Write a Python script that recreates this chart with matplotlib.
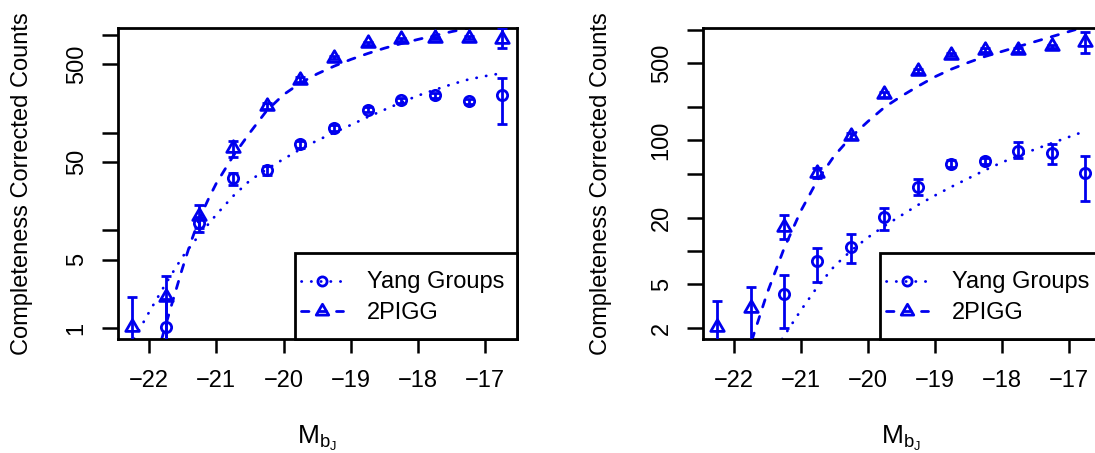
import numpy as np
import matplotlib
matplotlib.use("Agg")
import matplotlib.pyplot as plt
from matplotlib.path import Path
from matplotlib.patches import Rectangle
from matplotlib.ticker import NullLocator

plt.rcParams['font.family'] = ['Liberation Sans', 'DejaVu Sans']
plt.rcParams['mathtext.fontset'] = 'custom'
plt.rcParams['mathtext.rm'] = 'Liberation Sans'
plt.rcParams['mathtext.it'] = 'Liberation Sans'
plt.rcParams['mathtext.bf'] = 'Liberation Sans:bold'

W, H, DPI = 1095, 453, 100
FS = 17
BLUE = '#0000EE'
nan = np.nan

# ---------------- data ----------------
mag_bins = [-22.25, -21.75, -21.25, -20.75, -20.25, -19.75,
            -19.25, -18.75, -18.25, -17.75, -17.25, -16.75]
mag_ticks = [-22, -21, -20, -19, -18, -17]
mag_ticklabels = ['\u221222', '\u221221', '\u221220', '\u221219', '\u221218', '\u221217']

# left panel: counts with lower / upper error limits
yang_a = [nan, 1.03, 12.0, 34.2, 41.2, 76, 112, 172, 214, 241, 211, 246]
yang_a_lo = [nan, 0.3, 10.5, 29.2, 37, 70, 104, 161, 202, 228, 199, 122]
yang_a_hi = [nan, 2.0, 13.7, 38.9, 46, 82, 120, 183, 226, 254, 223, 366]
pigg_a = [1.03, 2.09, 13.9, 69.7, 188, 350, 585, 824, 906, 935, 940, 920]
pigg_a_lo = [0.3, 0.5, 9.7, 57, 176, 333, 563, 797, 877, 906, 911, 740]
pigg_a_hi = [2.09, 3.4, 18.3, 81.5, 200, 368, 607, 851, 935, 964, 969, 1170]

# left panel: fitted luminosity functions
fit_a_pigg_mag = [-21.81, -21.66, -21.51, -21.39, -21.25, -21.11, -21.0, -20.75,
                  -20.5, -20.25, -20.0, -19.75, -19.5, -19.25, -19.0, -18.75,
                  -18.5, -18.25, -18.0, -17.75, -17.5, -17.25, -17.0]
fit_a_pigg_val = [0.773, 1.758, 3.936, 7.16, 13.18, 21.38, 30.2, 57.5,
                  100, 168, 245, 322, 400, 479, 562, 646,
                  733, 817, 902, 989, 1084, 1175, 1259]
fit_a_yang_mag = [-22.22, -22.0, -21.75, -21.5, -21.25, -21.0, -20.75, -20.5,
                  -20.25, -20.0, -19.75, -19.5, -19.25, -19.0, -18.75, -18.5,
                  -18.25, -18.0, -17.75, -17.5, -17.25, -17.0, -16.75]
fit_a_yang_val = [0.773, 1.445, 2.851, 5.37, 9.02, 14.45, 22.4, 32.4,
                  42.2, 53.7, 67.6, 83.2, 100, 120, 144.5, 171.8,
                  204, 240, 275, 313, 351, 380, 407]

# right panel: counts with lower / upper error limits
yang_b = [nan, nan, 4.1, 8.07, 10.9, 20.2, 38, 61.5, 65.5, 80.7, 76.6, 51]
yang_b_lo = [nan, nan, 2.0, 5.2, 7.7, 15.5, 32, 57, 61, 69, 61.5, 28.5]
yang_b_hi = [nan, nan, 6.0, 10.6, 14.3, 24.4, 44.3, 66, 70, 97, 93.5, 73]
pigg_b = [2.05, 3.01, 16.5, 51, 109, 261, 428, 599, 659, 659, 713, 776]
pigg_b_lo = [0.5, 0.5, 12.8, 46, 102, 248, 410, 578, 637, 637, 690, 620]
pigg_b_hi = [3.5, 4.7, 21.3, 56, 116, 274, 446, 620, 681, 681, 736, 958]

# right panel: fitted luminosity functions
fit_b_pigg_mag = [-21.73, -21.5, -21.25, -21.0, -20.75, -20.5, -20.25, -20.0,
                  -19.75, -19.5, -19.25, -19.0, -18.75, -18.5, -18.25, -18.0,
                  -17.75, -17.5, -17.25, -17.0, -16.75]
fit_b_pigg_val = [1.55, 4.17, 10.47, 22.9, 43.65, 72.4, 107.2, 147.9,
                  199.5, 251, 309, 376, 442, 507, 575, 638,
                  708, 785, 871, 966, 1072]
fit_b_yang_mag = [-21.28, -21.0, -20.75, -20.5, -20.25, -20.0, -19.75, -19.5,
                  -19.25, -19.0, -18.75, -18.5, -18.25, -18.0, -17.75, -17.5,
                  -17.25, -17.0, -16.75]
fit_b_yang_val = [1.585, 2.884, 4.73, 7.24, 10.0, 13.18, 16.79, 20.9,
                  26.0, 31.6, 38.0, 45.2, 53.7, 63.1, 72.4, 83.2,
                  94.4, 107.2, 121.6]

series_labels = ['Yang Groups', '2PIGG']
ylabel_text = 'Completeness Corrected Counts'
xlabel_text = r'$\mathregular{M_{b_J}}$'

yticks_a = [1, 5, 10, 50, 100, 500, 1000]
yticklabels_a = ['1', '5', '', '50', '', '500', '']
yticks_b = [2, 5, 10, 20, 50, 100, 200, 500, 1000]
yticklabels_b = ['2', '5', '', '20', '', '100', '', '500', '']

# equilateral open triangle centred on its circumcentre
TRI = Path([(0, 1), (-0.866, -0.5), (0.866, -0.5), (0, 1)],
           [Path.MOVETO, Path.LINETO, Path.LINETO, Path.CLOSEPOLY])

LW = 2.0
DOT = dict(ls=(0, (0.1, 3.4)), dash_capstyle='round')
DASH = dict(ls=(0, (2.7, 3.6)), dash_capstyle='round')
CIRC = dict(marker='o', ms=7.4, mfc='none', mec=BLUE, mew=LW)
TRIM = dict(marker=TRI, ms=11.2, mfc='none', mec=BLUE, mew=LW)
CIRC_KEY = dict(marker='o', ms=6.6, mfc='none', mec=BLUE, mew=LW)
TRIM_KEY = dict(marker=TRI, ms=10.4, mfc='none', mec=BLUE, mew=LW)


def draw_points(ax, x, y, lo, hi, mstyle):
    x = np.asarray(x, float)
    y = np.asarray(y, float)
    lo = np.asarray(lo, float)
    hi = np.asarray(hi, float)
    ok = ~np.isnan(y)
    ax.errorbar(x[ok], y[ok], yerr=[y[ok] - lo[ok], hi[ok] - y[ok]], fmt='none',
                ecolor=BLUE, elinewidth=LW, capsize=3.9, capthick=LW, zorder=3)
    ax.plot(x[ok], y[ok], ls='none', zorder=4, **mstyle)


def draw_key(ax, ax_w_px, ax_h_px):
    fx = lambda px: px / ax_w_px
    fy = lambda py: py / ax_h_px
    ax.add_patch(Rectangle((fx(177), 0), 1 - fx(177), fy(86),
                           transform=ax.transAxes, facecolor='white',
                           edgecolor='black', lw=2.0, zorder=6, clip_on=False))
    rows = [(58, 51.3, DOT, CIRC_KEY, series_labels[0]),
            (28.5, 20.0, DASH, TRIM_KEY, series_labels[1])]
    for ly, by, lstyle, mstyle, text in rows:
        ax.plot([fx(183), fx(225)], [fy(ly), fy(ly)], transform=ax.transAxes,
                color=BLUE, lw=LW, zorder=7, clip_on=False, **lstyle)
        ax.plot([fx(204)], [fy(ly)], transform=ax.transAxes, ls='none',
                zorder=8, clip_on=False, **mstyle)
        ax.text(fx(249), fy(by), text, transform=ax.transAxes, fontsize=FS,
                ha='left', va='baseline', zorder=8)


def setup_axes(ax, ylim, yticks, yticklabels):
    ax.set_yscale('log')
    ax.set_xlim(-22.46, -16.53)
    ax.set_ylim(*ylim)
    ax.set_xticks(mag_ticks)
    ax.set_xticklabels(mag_ticklabels)
    ax.set_yticks(yticks)
    ax.set_yticklabels(yticklabels)
    ax.yaxis.set_minor_locator(NullLocator())
    ax.xaxis.set_minor_locator(NullLocator())
    ax.tick_params(axis='y', length=11.3, width=1.8, pad=10.5, labelsize=FS)
    ax.tick_params(axis='x', length=10.3, width=1.8, pad=12.0, labelsize=FS)
    plt.setp(ax.get_yticklabels(), rotation=90, va='center')
    for s in ax.spines.values():
        s.set_linewidth(2.0)


fig = plt.figure(figsize=(W / DPI, H / DPI), dpi=DPI)

panels = [
    dict(left=118, width=399, ylim=(0.772, 1180), yticks=yticks_a,
         yticklabels=yticklabels_a, yang=(yang_a, yang_a_lo, yang_a_hi),
         pigg=(pigg_a, pigg_a_lo, pigg_a_hi),
         fit_yang=(fit_a_yang_mag, fit_a_yang_val),
         fit_pigg=(fit_a_pigg_mag, fit_a_pigg_val), ylab_x=22),
    dict(left=703, width=397, ylim=(1.59, 1043), yticks=yticks_b,
         yticklabels=yticklabels_b, yang=(yang_b, yang_b_lo, yang_b_hi),
         pigg=(pigg_b, pigg_b_lo, pigg_b_hi),
         fit_yang=(fit_b_yang_mag, fit_b_yang_val),
         fit_pigg=(fit_b_pigg_mag, fit_b_pigg_val), ylab_x=601),
]

top_px, bot_px = 28, 339
for p in panels:
    ax = fig.add_axes([p['left'] / W, (H - bot_px) / H,
                       p['width'] / W, (bot_px - top_px) / H])
    setup_axes(ax, p['ylim'], p['yticks'], p['yticklabels'])
    ax.plot(*p['fit_yang'], color=BLUE, lw=LW, zorder=2, **DOT)
    ax.plot(*p['fit_pigg'], color=BLUE, lw=LW, zorder=2, **DASH)
    draw_points(ax, mag_bins, *p['yang'], CIRC)
    draw_points(ax, mag_bins, *p['pigg'], TRIM)
    draw_key(ax, p['width'], bot_px - top_px)
    fig.text(p['ylab_x'] / W, 1 - (top_px + bot_px) / 2 / H, ylabel_text,
             rotation=90, ha='center', va='center', fontsize=FS)
    fig.text((p['left'] + p['width'] / 2) / W, (H - 444) / H, xlabel_text,
             ha='center', va='baseline', fontsize=19)

fig.savefig('out.png', dpi=DPI)
